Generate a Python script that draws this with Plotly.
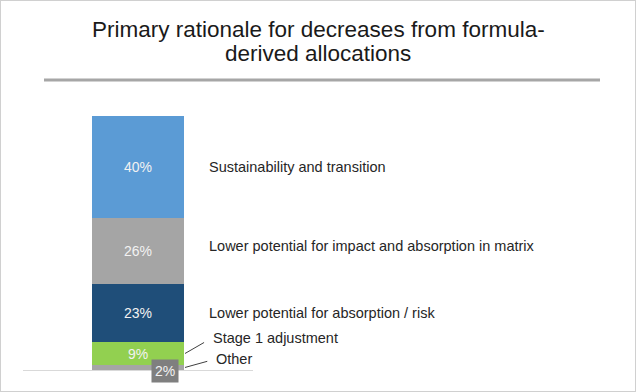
import plotly.graph_objects as go

# ---- data ----
bar_category = "Decreases"
categories = [
    "Sustainability and transition",
    "Lower potential for impact and absorption in matrix",
    "Lower potential for absorption / risk",
    "Stage 1 adjustment",
    "Other",
]
values = [40, 26, 23, 9, 2]
value_labels = ["40%", "26%", "23%", "9%", "2%"]
colors = ["#5B9BD5", "#A5A5A5", "#1F4E79", "#92D050", "#A5A5A5"]
title_lines = ["Primary rationale for decreases from formula-", "derived allocations"]

FONT = "Liberation Sans, Arial, sans-serif"
W, H = 636, 392

fig = go.Figure()

# stack bottom-to-top (reverse order of the list)
order = list(range(len(values)))[::-1]
for i in order:
    show_inside = categories[i] != "Other"
    fig.add_trace(go.Bar(
        x=[bar_category], y=[values[i]], width=0.8,
        marker=dict(color=colors[i], line=dict(width=0)),
        text=[value_labels[i]] if show_inside else None,
        textposition="inside" if show_inside else "none",
        insidetextanchor="middle", textangle=0,
        textfont=dict(family=FONT, size=14, color="#F2F2F2"),
        hoverinfo="skip", showlegend=False, name=categories[i],
    ))

# cumulative midpoints
bottoms = {}
acc = 0
for i in order:
    bottoms[i] = acc
    acc += values[i]
mids = {i: bottoms[i] + values[i] / 2 for i in order}

annotations = []
# direct labels for the big segments
label_yshift = {0: 0, 1: 5, 2: 0}
for i in range(3):
    annotations.append(dict(
        x=bar_category, y=mids[i], xref="x", yref="y", xshift=69,
        text=categories[i], showarrow=False, xanchor="left", yanchor="middle",
        yshift=label_yshift[i],
        font=dict(family=FONT, size=14.5, color="#262626"),
    ))

# leader-line labels for the small segments
leader = {3: (26, -15, 8), 4: (29, -8, 7)}
for i, (ax, ay, ss) in leader.items():
    annotations.append(dict(
        x=bar_category, y=mids[i], xref="x", yref="y", xshift=47,
        text=categories[i], showarrow=True, arrowhead=0, arrowwidth=1,
        arrowcolor="#404040", ax=ax, ay=ay, standoff=0, startstandoff=ss,
        xanchor="left", yanchor="middle",
        font=dict(family=FONT, size=14.5, color="#262626"),
    ))

# boxed value label for "Other"
annotations.append(dict(
    x=bar_category, y=bottoms[4], xref="x", yref="y", xshift=27, yshift=-1,
    text=value_labels[4], showarrow=False, xanchor="center", yanchor="middle",
    bgcolor="#7F7F7F", borderpad=3,
    font=dict(family=FONT, size=14, color="#F2F2F2"),
))

# title (two lines)
for line_text, ypx in zip(title_lines, [29, 53]):
    annotations.append(dict(
        x=0.5, y=1 - ypx / H, xref="paper", yref="paper", showarrow=False,
        text=line_text, xanchor="center", yanchor="middle",
        font=dict(family=FONT, size=22.5, color="#1A1A1A"),
    ))

fig.update_layout(
    width=W, height=H,
    margin=dict(l=0, r=0, t=0, b=0),
    paper_bgcolor="white", plot_bgcolor="white",
    barmode="stack", bargap=0,
    annotations=annotations,
    xaxis=dict(domain=[23 / W, 253 / W], range=[-1, 1], visible=False,
               type="category", fixedrange=True),
    yaxis=dict(domain=[0, 1], range=[-(H - 370) / 2.54, 100 + 116 / 2.54],
               showgrid=False, showticklabels=False, ticks="",
               zeroline=True, zerolinecolor="#D9D9D9", zerolinewidth=1,
               fixedrange=True),
    shapes=[
        dict(type="line", xref="paper", yref="paper",
             x0=44 / W, x1=600 / W, y0=1 - 80 / H, y1=1 - 80 / H,
             line=dict(color="#A6A6A6", width=3)),
        dict(type="rect", xref="paper", yref="paper", x0=0, x1=1, y0=0, y1=1,
             line=dict(color="#D0D0D0", width=2)),
    ],
)

fig.write_html(
    "out.html",
    config={"displayModeBar": False},
    post_script="document.body.style.margin='0px';document.body.style.overflow='hidden';",
)
